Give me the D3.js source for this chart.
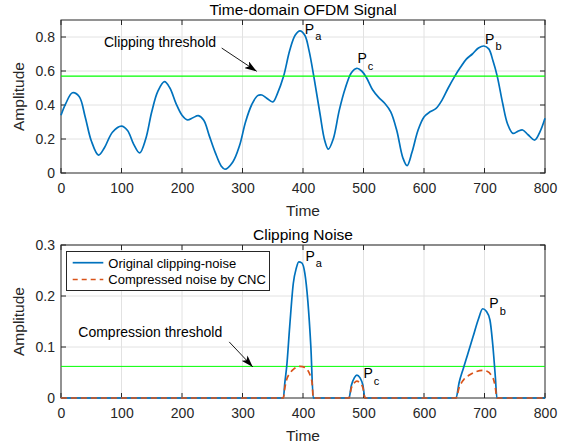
<!DOCTYPE html>
<html>
<head>
<meta charset="utf-8">
<script src="https://cdn.jsdelivr.net/npm/d3@7/dist/d3.min.js"></script>
<style>
  body { margin: 0; background: #fff; }
  svg { display: block; font-family: "Liberation Sans", Arial, Helvetica, sans-serif; }
</style>
</head>
<body>
<svg id="chart" width="565" height="447"></svg>
<script>
// sinal OFDM no tempo (amplitude)
const SIGNAL_T = [0, 8, 19, 30, 40, 50, 62, 72, 85, 100, 110, 120, 130, 140, 150, 160, 171, 180, 190, 200,
  209, 218, 227, 236, 245, 255, 265, 271, 284, 295, 305, 315, 325, 332, 340, 350, 358, 368, 378, 387,
  395, 403, 410, 418, 428, 436, 442, 450, 460, 470, 480, 489, 497, 505, 515, 525, 535, 545, 555, 565,
  572, 580, 590, 600, 610, 620, 630, 640, 651, 660, 670, 680, 690, 699, 707, 714, 721, 730, 738, 747,
  755, 763, 772, 783, 792, 800];
const SIGNAL_A = [0.34, 0.41, 0.472, 0.45, 0.33, 0.19, 0.105, 0.15, 0.24, 0.276, 0.25, 0.17, 0.118, 0.2, 0.36, 0.48, 0.537, 0.5, 0.41, 0.34,
  0.312, 0.325, 0.337, 0.31, 0.22, 0.12, 0.04, 0.022, 0.065, 0.16, 0.3, 0.4, 0.455, 0.459, 0.44, 0.418, 0.47, 0.57, 0.72, 0.81,
  0.836, 0.81, 0.72, 0.565, 0.35, 0.19, 0.14, 0.2, 0.37, 0.5, 0.59, 0.616, 0.6, 0.56, 0.49, 0.445, 0.41, 0.36, 0.25, 0.09,
  0.043, 0.12, 0.25, 0.33, 0.36, 0.38, 0.43, 0.5, 0.57, 0.62, 0.67, 0.7, 0.735, 0.747, 0.73, 0.66, 0.57, 0.41, 0.29, 0.233,
  0.245, 0.253, 0.225, 0.194, 0.245, 0.322];

// ruido de clipping original
const NOISE_T = [0, 367.5, 370, 373, 378, 384, 389, 393, 398, 403, 408, 413, 417,
  476, 480, 485, 489, 494, 499, 502.5,
  653, 658, 665, 672, 681, 690, 697, 703, 709, 714, 718, 720.5, 800];
const NOISE_A = [0, 0, 0.03, 0.061, 0.14, 0.225, 0.255, 0.267, 0.265, 0.245, 0.19, 0.1, 0,
  0, 0.025, 0.04, 0.045, 0.04, 0.025, 0,
  0, 0.03, 0.058, 0.085, 0.12, 0.155, 0.175, 0.17, 0.153, 0.1, 0.04, 0, 0];

// ruido comprimido pelo CNC
const CNC_T = [0, 367.5, 370, 373, 378, 385, 395, 403, 409, 413, 415, 417,
  476, 480, 485, 489, 494, 499, 502.5,
  653, 658, 665, 675, 687, 697, 705, 711, 716, 718, 720.5, 800];
const CNC_A = [0, 0, 0.02, 0.036, 0.048, 0.057, 0.062, 0.06, 0.052, 0.04, 0.03, 0,
  0, 0.02, 0.03, 0.033, 0.03, 0.02, 0,
  0, 0.02, 0.035, 0.045, 0.052, 0.054, 0.052, 0.045, 0.032, 0.02, 0, 0];

const CLIP_THRESHOLD = 0.57;
const CNC_THRESHOLD = 0.062;

const X_TICKS = [0, 100, 200, 300, 400, 500, 600, 700, 800];
const TOP_Y_TICKS = [0, 0.2, 0.4, 0.6, 0.8];
const BOT_Y_TICKS = [0, 0.1, 0.2, 0.3];

const PEAK_NAMES = ["a", "c", "b"];
const TOP_PEAK_T = [403, 490, 701];
const TOP_PEAK_A = [0.82, 0.645, 0.759];
const BOT_PEAK_T = [404, 500, 708];
const BOT_PEAK_A = [0.269, 0.039, 0.176];

const LEGEND_LABELS = ["Original clipping-noise", "Compressed noise by CNC"];

const BLUE = "#0072bd";
const ORANGE = "#d95319";
const GREEN = "#00ff00";
const AXIS = "#262626";

const LEFT = 61, RIGHT = 545;
const svg = d3.select("#chart");

svg.append("defs").append("marker")
  .attr("id", "head")
  .attr("viewBox", "0 0 12 8")
  .attr("refX", 12).attr("refY", 4)
  .attr("markerWidth", 12).attr("markerHeight", 8)
  .attr("markerUnits", "userSpaceOnUse")
  .attr("orient", "auto")
  .append("path").attr("d", "M0,0L12,4L0,8L3,4Z").attr("fill", "#000");

function panel(top, bottom, yMax, yTicks, yFmt, title) {
  const x = d3.scaleLinear().domain([0, 800]).range([LEFT, RIGHT]);
  const y = d3.scaleLinear().domain([0, yMax]).range([bottom, top]);
  const g = svg.append("g");

  g.append("rect").attr("x", LEFT).attr("y", top).attr("width", RIGHT - LEFT).attr("height", bottom - top).attr("fill", "#fff");

  // grade
  g.append("g").selectAll("line").data(X_TICKS.slice(1, -1)).join("line")
    .attr("x1", x).attr("x2", x).attr("y1", top).attr("y2", bottom)
    .attr("stroke", "#e2e2e2");
  g.append("g").selectAll("line").data(yTicks.slice(1)).join("line")
    .attr("x1", LEFT).attr("x2", RIGHT).attr("y1", y).attr("y2", y)
    .attr("stroke", "#e2e2e2");

  // eixos no estilo matlab: ticks para dentro nos 4 lados
  g.append("g").attr("transform", `translate(0,${bottom})`)
    .call(d3.axisBottom(x).tickValues(X_TICKS).tickSizeInner(0).tickSizeOuter(0).tickPadding(10))
    .call((a) => a.select(".domain").remove())
    .call((a) => a.selectAll("text").attr("fill", AXIS).attr("font-size", 14))
    .attr("font-family", null);
  g.append("g").attr("transform", `translate(${LEFT},0)`)
    .call(d3.axisLeft(y).tickValues(yTicks).tickFormat(yFmt).tickSizeInner(0).tickSizeOuter(0).tickPadding(6))
    .call((a) => a.select(".domain").remove())
    .call((a) => a.selectAll("text").attr("fill", AXIS).attr("font-size", 14))
    .attr("font-family", null);

  const ticks = g.append("g").attr("stroke", AXIS).attr("stroke-width", 1);
  ticks.selectAll("line.xb").data(X_TICKS).join("line").attr("class", "xb")
    .attr("x1", x).attr("x2", x).attr("y1", bottom).attr("y2", bottom - 5);
  ticks.selectAll("line.xt").data(X_TICKS).join("line").attr("class", "xt")
    .attr("x1", x).attr("x2", x).attr("y1", top).attr("y2", top + 5);
  ticks.selectAll("line.yl").data(yTicks).join("line").attr("class", "yl")
    .attr("x1", LEFT).attr("x2", LEFT + 5).attr("y1", y).attr("y2", y);
  ticks.selectAll("line.yr").data(yTicks).join("line").attr("class", "yr")
    .attr("x1", RIGHT).attr("x2", RIGHT - 5).attr("y1", y).attr("y2", y);

  g.append("rect").attr("x", LEFT).attr("y", top).attr("width", RIGHT - LEFT).attr("height", bottom - top)
    .attr("fill", "none").attr("stroke", AXIS).attr("stroke-width", 1);

  g.append("text").attr("x", (LEFT + RIGHT) / 2).attr("y", top - 5)
    .attr("text-anchor", "middle").attr("font-size", 15.5).attr("fill", "#000").text(title);
  g.append("text").attr("x", (LEFT + RIGHT) / 2).attr("y", bottom + 43)
    .attr("text-anchor", "middle").attr("font-size", 15.5).attr("fill", AXIS).text("Time");
  g.append("text").attr("transform", `translate(24,${(top + bottom) / 2}) rotate(-90)`)
    .attr("text-anchor", "middle").attr("font-size", 15.5).attr("fill", AXIS).text("Amplitude");

  return { g, x, y };
}

function peakLabels(p, ts, as) {
  p.g.append("g").selectAll("text").data(PEAK_NAMES).join("text")
    .attr("x", (d, i) => p.x(ts[i])).attr("y", (d, i) => p.y(as[i]))
    .attr("font-size", 14).attr("fill", "#000")
    .each(function (d) {
      const t = d3.select(this);
      t.append("tspan").text("P");
      t.append("tspan").attr("dx", 1).attr("dy", 6.5).attr("font-size", 11).text(d);
    });
}

function note(p, label, tx, ty, ax, ay, bx, by) {
  p.g.append("text").attr("x", p.x(tx)).attr("y", p.y(ty)).attr("font-size", 14).attr("fill", "#000").text(label);
  p.g.append("line").attr("x1", p.x(ax)).attr("y1", p.y(ay)).attr("x2", p.x(bx)).attr("y2", p.y(by))
    .attr("stroke", "#000").attr("stroke-width", 0.9).attr("marker-end", "url(#head)");
}

// painel 1: sinal no tempo
const signalPanel = panel(20, 173, 0.9, TOP_Y_TICKS, d3.format("~g"), "Time-domain OFDM Signal");
signalPanel.g.append("path")
  .attr("d", d3.line().x((d, i) => signalPanel.x(SIGNAL_T[i])).y((d) => signalPanel.y(d)).curve(d3.curveCatmullRom.alpha(0.5))(SIGNAL_A))
  .attr("fill", "none").attr("stroke", BLUE).attr("stroke-width", 1.7);
signalPanel.g.append("line").attr("x1", LEFT).attr("x2", RIGHT)
  .attr("y1", signalPanel.y(CLIP_THRESHOLD)).attr("y2", signalPanel.y(CLIP_THRESHOLD))
  .attr("stroke", GREEN).attr("stroke-width", 1.2);
peakLabels(signalPanel, TOP_PEAK_T, TOP_PEAK_A);
note(signalPanel, "Clipping threshold", 71, 0.741, 265.6, 0.735, 323.5, 0.598);

// painel 2: ruido de clipping
const noisePanel = panel(245, 398, 0.3, BOT_Y_TICKS, d3.format("~g"), "Clipping Noise");
noisePanel.g.append("line").attr("x1", LEFT).attr("x2", RIGHT)
  .attr("y1", noisePanel.y(CNC_THRESHOLD)).attr("y2", noisePanel.y(CNC_THRESHOLD))
  .attr("stroke", GREEN).attr("stroke-width", 1);
noisePanel.g.append("path")
  .attr("d", d3.line().x((d, i) => noisePanel.x(NOISE_T[i])).y((d) => noisePanel.y(d)).curve(d3.curveMonotoneX)(NOISE_A))
  .attr("fill", "none").attr("stroke", BLUE).attr("stroke-width", 1.7);
noisePanel.g.append("path")
  .attr("d", d3.line().x((d, i) => noisePanel.x(CNC_T[i])).y((d) => noisePanel.y(d)).curve(d3.curveMonotoneX)(CNC_A))
  .attr("fill", "none").attr("stroke", ORANGE).attr("stroke-width", 1.7).attr("stroke-dasharray", "6,4");
peakLabels(noisePanel, BOT_PEAK_T, BOT_PEAK_A);
note(noisePanel, "Compression threshold", 28.6, 0.119, 278, 0.110, 317, 0.061);

// legenda
const leg = noisePanel.g.append("g");
leg.append("rect").attr("x", 66.5).attr("y", 251.5).attr("width", 203).attr("height", 39)
  .attr("fill", "#fff").attr("stroke", AXIS).attr("stroke-width", 1);
LEGEND_LABELS.forEach((label, i) => {
  const yy = 262.7 + i * 16.8;
  leg.append("line").attr("x1", 72.7).attr("x2", 103.3).attr("y1", yy).attr("y2", yy)
    .attr("stroke", i ? ORANGE : BLUE).attr("stroke-width", 1.7).attr("stroke-dasharray", i ? "5,4" : null);
  leg.append("text").attr("x", 108.3).attr("y", yy + 4.8).attr("font-size", 13).attr("fill", "#000").text(label);
});
</script>
</body>
</html>
